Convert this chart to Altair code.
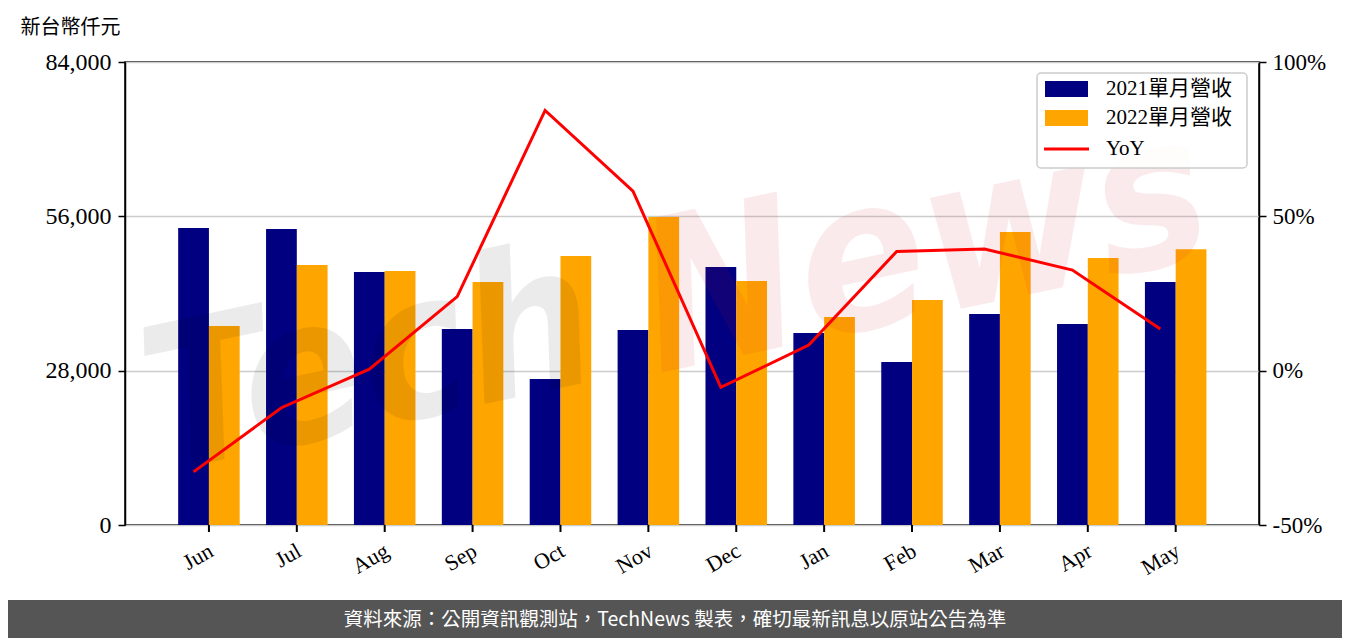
import altair as alt
import pandas as pd

# ---------------- data ----------------
MONTHS = ["Jun", "Jul", "Aug", "Sep", "Oct", "Nov", "Dec", "Jan", "Feb", "Mar", "Apr", "May"]
REV_2021 = [53900, 53700, 45900, 35550, 26500, 35400, 46800, 34850, 29550, 38300, 36450, 44100]
REV_2022 = [36100, 47150, 46100, 44100, 48800, 55900, 44250, 37750, 40800, 53150, 48450, 50050]
YOY = [-32.8, -12.0, 0.5, 24.0, 84.3, 58.2, -5.4, 8.3, 38.6, 39.4, 32.6, 13.5]
SERIES = ["2021單月營收", "2022單月營收", "YoY"]
COLORS = ["#000080", "#FFA500", "#FF0000"]
LEFT_TICKS = [0, 28000, 56000, 84000]
RIGHT_TICKS = [-50, 0, 50, 100]
Y_TITLE = "新台幣仟元"
FOOTER = "資料來源：公開資訊觀測站，TechNews 製表，確切最新訊息以原站公告為準"
WATERMARK = ["Tech", "News"]

# ---------------- layout ----------------
W, H = 1134, 463
PAD_L, PAD_T = 117, 54
PAD_R = 1334 - PAD_L - W
PAD_B = 640 - PAD_T - H
BAR_W = 0.35

SERIF = "'Liberation Serif', 'Noto Sans CJK TC', serif"
CJK = "'Noto Sans CJK TC', sans-serif"

rows = []
for i, m in enumerate(MONTHS):
    rows.append({"month": m, "series": SERIES[0], "value": REV_2021[i], "base": 0, "x0": i - BAR_W, "x1": i})
    rows.append({"month": m, "series": SERIES[1], "value": REV_2022[i], "base": 0, "x0": i, "x1": i + BAR_W})
bars_df = pd.DataFrame(rows)
line_df = pd.DataFrame({"month": MONTHS, "x": [i - BAR_W / 2 for i in range(len(MONTHS))], "yoy": YOY})
cat_df = pd.DataFrame({"month": MONTHS, "idx": list(range(len(MONTHS)))})
one = pd.DataFrame({"a": [0]})

xscale = alt.Scale(domain=[-0.955, 11.948], nice=False, zero=False, padding=0)

left_axis = alt.Axis(
    values=LEFT_TICKS, format=",d", labelFont=SERIF, labelFontSize=24,
    labelPadding=7, grid=True, gridColor="#cccccc", gridWidth=1.5,
    title=Y_TITLE, titleAngle=0, titleAlign="left", titleBaseline="middle",
    titleX=-105, titleY=-35, titleFont=CJK, titleFontSize=20, titleFontWeight="normal",
)

right_axis = alt.Axis(
    values=RIGHT_TICKS, labelExpr="datum.value + '%'", orient="right",
    labelFont=SERIF, labelFontSize=23, labelPadding=6, grid=False, title=None,
)

bars = alt.Chart(bars_df).mark_bar(orient="vertical").encode(
    x=alt.X("x0:Q", scale=xscale, axis=None),
    x2="x1:Q",
    y=alt.Y("value:Q", scale=alt.Scale(domain=[0, 84000], nice=False), axis=left_axis),
    y2="base:Q",
    color=alt.Color("series:N", scale=alt.Scale(domain=SERIES[:2], range=COLORS[:2]), legend=None),
)

# month ticks and labels along the bottom spine (placed through the x scale)
x_ticks = alt.Chart(cat_df).mark_rule(color="black", strokeWidth=2).encode(
    x=alt.X("idx:Q", scale=xscale, axis=None), y=alt.value(H), y2=alt.value(H + 7))
x_labels = alt.Chart(cat_df).mark_text(
    font=SERIF, fontSize=22, angle=330, align="right", baseline="top", color="black", dx=-3
).encode(x=alt.X("idx:Q", scale=xscale, axis=None), y=alt.value(H + 14), text="month:N")

WM_FONT = "DejaVu Sans Condensed"
wm_tech = alt.Chart(one).mark_text(
    text=WATERMARK[0], font=WM_FONT, fontSize=200, fontWeight="bold", fontStyle="italic",
    color="#000000", opacity=0.075, angle=348, align="center", baseline="middle",
).encode(x=alt.value(245), y=alt.value(305))

wm_news = alt.Chart(one).mark_text(
    text=WATERMARK[1], font=WM_FONT, fontSize=210, fontWeight="bold", fontStyle="italic",
    color="#d02030", opacity=0.085, angle=348, align="center", baseline="middle",
).encode(x=alt.value(800), y=alt.value(190))

line = alt.Chart(line_df).mark_line(color=COLORS[2], strokeWidth=3).encode(
    x=alt.X("x:Q", scale=xscale, axis=None),
    y=alt.Y("yoy:Q", scale=alt.Scale(domain=[-50, 100], nice=False), axis=right_axis),
)

# legend (drawn by hand to mimic a single boxed legend)
leg_box = alt.Chart(one).mark_rect(
    fill="white", fillOpacity=0.85, stroke="#cccccc", strokeWidth=1.5, cornerRadius=4
).encode(x=alt.value(912), x2=alt.value(1122), y=alt.value(11), y2=alt.value(106))
leg_sw1 = alt.Chart(one).mark_rect(fill=COLORS[0]).encode(
    x=alt.value(920), x2=alt.value(963), y=alt.value(19), y2=alt.value(35))
leg_sw2 = alt.Chart(one).mark_rect(fill=COLORS[1]).encode(
    x=alt.value(920), x2=alt.value(963), y=alt.value(48), y2=alt.value(64))
leg_sw3 = alt.Chart(one).mark_rule(color=COLORS[2], strokeWidth=3).encode(
    x=alt.value(919), x2=alt.value(964), y=alt.value(87))
leg_texts = [
    alt.Chart(one).mark_text(text=SERIES[k], font=SERIF, fontSize=21, align="left",
                             baseline="middle", color="black").encode(
        x=alt.value(981), y=alt.value(yy))
    for k, yy in enumerate([27, 56, 87])
]

# footer band
foot_rect = alt.Chart(one).mark_rect(fill="#555555").encode(
    x=alt.value(-PAD_L), x2=alt.value(W + PAD_R), y=alt.value(538), y2=alt.value(H + PAD_B))
foot_text = alt.Chart(one).mark_text(
    text=FOOTER, font=CJK, fontSize=19.5, color="white", align="center", baseline="middle"
).encode(x=alt.value(550), y=alt.value(558))

chart = alt.layer(
    bars, x_ticks, x_labels, wm_tech, wm_news, line,
    leg_box, leg_sw1, leg_sw2, leg_sw3, *leg_texts,
    foot_rect, foot_text,
).resolve_scale(y="independent").properties(
    width=W, height=H,
    autosize=alt.AutoSizeParams(type="none"),
    padding={"left": PAD_L, "top": PAD_T, "right": PAD_R, "bottom": PAD_B},
    background="white",
).configure_view(
    stroke="black", strokeWidth=1.5
).configure_axis(
    domainColor="black", domainWidth=1.5, tickColor="black", tickWidth=1.5,
    tickSize=7, labelColor="black", titleColor="black",
)

chart.save("out.html", embed_options={"renderer": "svg", "actions": False})
